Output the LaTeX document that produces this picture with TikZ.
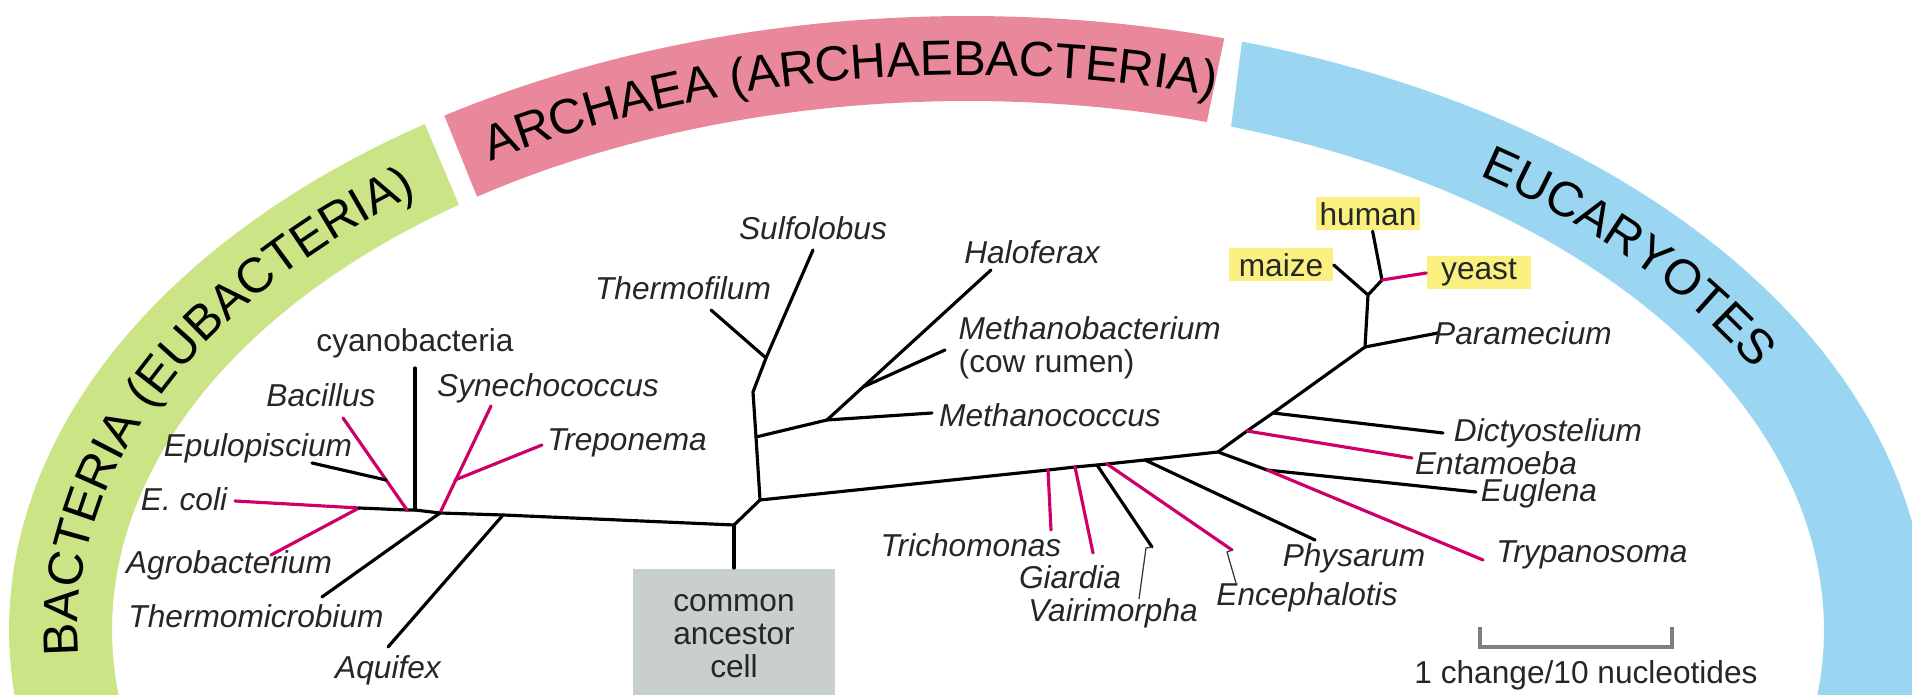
\documentclass[tikz,border=0pt]{standalone}
\usepackage{fontspec}
\setmainfont{Liberation Sans}
\usepackage{tikz}
\usetikzlibrary{decorations.text}

\definecolor{bactgreen}{RGB}{202,228,134}
\definecolor{archpink}{RGB}{233,136,154}
\definecolor{eukblue}{RGB}{154,214,241}
\definecolor{magline}{RGB}{206,0,104}
\definecolor{boxgray}{RGB}{200,207,204}
\definecolor{hiyellow}{RGB}{250,240,128}
\newcommand\bandfont{\fontsize{14}{14}\selectfont}

\begin{document}
\begin{tikzpicture}[
    x=0.01cm, y=-0.01cm,
    every node/.style={inner sep=0pt, font=\fontsize{9}{9.4}\selectfont, text=black!85},
    lbl/.style={font=\fontsize{9}{9.4}\selectfont\itshape},
    hi/.style={fill=hiyellow, minimum width=1.04cm, minimum height=0.33cm},
    br/.style={draw=black, line width=0.9pt, line cap=round, line join=round},
    pk/.style={br, draw=magline},
    leader/.style={draw=black!80, line width=0.35pt},
    bandtext/.style={decorate, decoration={text along path, text align=center, text={|\bandfont|#1}}}
]
    \useasboundingbox (0,0) rectangle (1912,695);
    \clip (0,0) rectangle (1912,695);

    % domains
    \fill[bactgreen] plot[domain=192:124.5, samples=50] ({968+959*cos(\x)}, {630-614*sin(\x)})
        -- plot[domain=126.5:192, samples=50] ({968+856*cos(\x)}, {630-529*sin(\x)}) -- cycle;
    \fill[archpink] plot[domain=123.1:74.5, samples=50] ({968+959*cos(\x)}, {630-614*sin(\x)})
        -- plot[domain=73.8:125, samples=50] ({968+856*cos(\x)}, {630-529*sin(\x)}) -- cycle;
    \fill[eukblue] plot[domain=73.4:-12, samples=60] ({968+959*cos(\x)}, {630-614*sin(\x)})
        -- plot[domain=-12:72.1, samples=60] ({968+856*cos(\x)}, {630-529*sin(\x)}) -- cycle;
    \path[bandtext={BACTERIA (EUBACTERIA)}] plot[domain=190:123, samples=60] ({968+890*cos(\x)}, {630-555*sin(\x)});
    \path[bandtext={ARCHAEA (ARCHAEBACTERIA)}] plot[domain=130:67, samples=60] ({968+890*cos(\x)}, {630-555*sin(\x)});
    \path[bandtext={EUCARYOTES}] plot[domain=58:24, samples=40] ({968+890*cos(\x)}, {630-555*sin(\x)});

    % Bacteria
    \coordinate (R) at (734,525);
    \coordinate (b1) at (359,508);
    \coordinate (b2) at (407,510);
    \coordinate (b3) at (386,480);
    \coordinate (b4) at (415,510);
    \coordinate (b5) at (440,513);
    \coordinate (b6) at (455,480);
    \coordinate (b7) at (503,515);
    \coordinate (tEco) at (235,501);
    \coordinate (tAgr) at (271,555);
    \coordinate (tBac) at (343,418);
    \coordinate (tEpu) at (312,463);
    \coordinate (tCya) at (415,368);
    \coordinate (tSyn) at (491,406);
    \coordinate (tTre) at (542,445);
    \coordinate (tThm) at (322,597);
    \coordinate (tAqu) at (388,647);
    \draw[pk] (tEco) -- (b1) -- (tAgr);
    \draw[br] (b1) -- (b2) -- (b4) -- (b5) -- (b7) -- (R);
    \draw[pk] (tBac) -- (b2);
    \draw[br] (tEpu) -- (b3);
    \draw[br] (tCya) -- (b4);
    \draw[pk] (tSyn) -- (b5);
    \draw[pk] (tTre) -- (b6);
    \draw[br] (tThm) -- (b5);
    \draw[br] (tAqu) -- (b7);

    \node (cya) at (415,343) {cyanobacteria};
    \node[lbl] (bac) at (321,395) {Bacillus};
    \node[lbl] (epu) at (258,448) {Epulopiscium};
    \node[lbl] (eco) at (184,499) {E. coli};
    \node[lbl] (agr) at (229,565) {Agrobacterium};
    \node[lbl] (thm) at (256,616) {Thermomicrobium};
    \node[lbl] (aqu) at (388,670) {Aquifex};
    \node[lbl] (syn) at (548,388) {Synechococcus};
    \node[lbl] (tre) at (627,443) {Treponema};

    % common ancestor
    \node[fill=boxgray, minimum width=2.02cm, minimum height=1.34cm, anchor=north, align=center] (anc) at (734,568) {common\\ancestor\\cell};
    \draw[br] (R) -- (anc.north);

    % Archaea
    \coordinate (a0) at (760,500);
    \coordinate (a1) at (756,437);
    \coordinate (a2) at (753,392);
    \coordinate (a3) at (766,358);
    \coordinate (a4) at (827,420);
    \coordinate (a5) at (863,387);
    \coordinate (tThf) at (711,310);
    \coordinate (tSul) at (813,250);
    \coordinate (tMcc) at (932,413);
    \coordinate (tHal) at (991,270);
    \coordinate (tMbt) at (945,350);
    \draw[br] (R) -- (a0) -- (a1) -- (a2) -- (a3);
    \draw[br] (tThf) -- (a3) -- (tSul);
    \draw[br] (a1) -- (a4) -- (tMcc);
    \draw[br] (a4) -- (tHal);
    \draw[br] (a5) -- (tMbt);

    \node[lbl] (sul) at (813,228) {Sulfolobus};
    \node[lbl] (thf) at (683,288) {Thermofilum};
    \node[lbl] (hal) at (1032,252) {Haloferax};
    \node[anchor=west, align=left] (mbt) at (958,348) {{\itshape Methanobacterium}\\(cow rumen)};
    \node[lbl] (mcc) at (1050,415) {Methanococcus};

    % Eucaryotes
    \coordinate (e1) at (1048,470);
    \coordinate (e2) at (1075,467);
    \coordinate (e3) at (1097,465);
    \coordinate (e4) at (1107,464);
    \coordinate (e5) at (1145,460);
    \coordinate (e6) at (1218,452);
    \coordinate (e7) at (1267,470);
    \coordinate (e8) at (1247,431);
    \coordinate (e9) at (1273,413);
    \coordinate (e10) at (1365,347);
    \coordinate (e11) at (1368,295);
    \coordinate (e12) at (1382,280);
    \coordinate (tTri) at (1051,530);
    \coordinate (tGia) at (1093,553);
    \coordinate (tVai) at (1152,547);
    \coordinate (tEnc) at (1232,550);
    \coordinate (tPhy) at (1315,540);
    \coordinate (tEug) at (1476,492);
    \coordinate (tTry) at (1483,560);
    \coordinate (tEnt) at (1412,458);
    \coordinate (tDic) at (1443,433);
    \coordinate (tPar) at (1438,333);

    \node[hi] (human) at (1368,214) {human};
    \node[hi] (maize) at (1281,265) {maize};
    \node[hi] (yeast) at (1479,273) {yeast};

    \draw[br] (a0) -- (e1) -- (e2) -- (e3) -- (e4) -- (e5) -- (e6) -- (e7) -- (tEug);
    \draw[pk] (e1) -- (tTri);
    \draw[pk] (e2) -- (tGia);
    \draw[br] (e3) -- (tVai);
    \draw[pk] (e4) -- (tEnc);
    \draw[br] (e5) -- (tPhy);
    \draw[pk] (e7) -- (tTry);
    \draw[br] (e6) -- (e8) -- (e9) -- (e10) -- (e11) -- (e12) -- (human.-75);
    \draw[pk] (e8) -- (tEnt);
    \draw[br] (e9) -- (tDic);
    \draw[br] (e10) -- (tPar);
    \draw[br] (e11) -- (maize.east);
    \draw[pk] (e12) -- (yeast.west);

    \node[lbl] (par) at (1523,333) {Paramecium};
    \node[lbl] (dic) at (1548,433) {Dictyostelium};
    \node[lbl] (ent) at (1496,463) {Entamoeba};
    \node[lbl] (eug) at (1539,493) {Euglena};
    \node[lbl] (try) at (1592,555) {Trypanosoma};
    \node[lbl] (phy) at (1354,558) {Physarum};
    \node[lbl] (tri) at (971,545) {Trichomonas};
    \node[lbl] (gia) at (1070,577) {Giardia};
    \node[lbl] (vai) at (1113,613) {Vairimorpha};
    \node[lbl] (enc) at (1307,597) {Encephalotis};
    \coordinate (lVai) at (1139,599);
    \coordinate (lEnc) at (1236,583);
    \draw[leader] (tVai) -- ++(-6,1) -- (lVai);
    \draw[leader] (tEnc) -- ++(-5,2) -- (lEnc);

    % scale bar
    \coordinate (s1) at (1480,647);
    \coordinate (s2) at (1672,647);
    \draw[black!50, line width=1pt] (1480,627) -- (s1) -- (s2) -- (1672,627);
    \node (scl) at (1586,675) {1 change/10 nucleotides};
\end{tikzpicture}
\end{document}
